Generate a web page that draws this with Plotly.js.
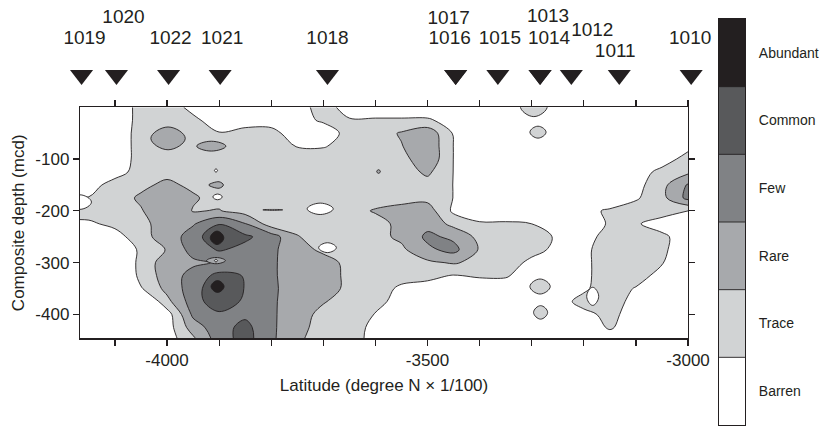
<!DOCTYPE html>
<html>
<head>
<meta charset="utf-8">
<script src="https://cdn.plot.ly/plotly-3.0.1.min.js"></script>
<style>
  html, body { margin: 0; padding: 0; background: #ffffff; }
  #chart { width: 821px; height: 427px; }
</style>
</head>
<body>
<div id="chart"></div>
<script>
// ------------------------------------------------------------------
// DATA
// ------------------------------------------------------------------
// Grid of the abundance field: latitude (degree N x 1/100) and composite depth (mcd)
const latitude = [-4200, -4150, -4100, -4050, -4000, -3950, -3900, -3850, -3800, -3750,
                  -3700, -3650, -3600, -3550, -3500, -3450, -3400, -3350, -3300, -3250,
                  -3200, -3150, -3100, -3050, -3000];
const depth = [0, -25, -50, -75, -100, -125, -150, -175, -200, -225,
               -250, -275, -300, -325, -350, -375, -400, -425, -450];

// Abundance index (0 Barren, 1 Trace, 2 Rare, 3 Few, 4 Common, 5 Abundant), one row per depth
const abundance = [
  [0, 0, 0, 0.74, 1.0, 0.22, 0, 0, 0, 0, 1.0, 0, 0, 0, 0, 0, 0, 0, 0, 0, 0, 0, 0, 0, 0],
  [0, 0, 0, 0.74, 1.0, 0.72, 0, 0.1, 0.1, 0, 0.7, 0.6, 0.6, 0.6, 0.6, 0.2, 0, 0, 0, 0, 0, 0, 0, 0, 0],
  [0, 0, 0, 0.8, 1.2, 1.0, 0.55, 0.8, 0.8, 0, -0.3, 1.0, 1.0, 1.6, 2.2, 0.4, 0, 0, 0, 0, 0, 0, 0, 0, 0],
  [0, 0, 0, 0.8, 1.2, 1.1, 1.1, 1.0, 1.0, 0.45, 0.4, 1.0, 1.0, 1.45, 2.3, 0.48, 0, 0, 0, 0, 0, 0, 0, 0, 0.2],
  [0, 0, 0, 0.8, 1.2, 1.1, 1.1, 1.0, 1.0, 1.0, 1.2, 1.0, 1.0, 1.1, 2.3, 0.48, 0, 0, 0, 0, 0, 0, 0, 0, 0.9],
  [0, 0, 0, 1.0, 1.3, 1.2, 1.2, 1.0, 1.0, 1.0, 1.0, 1.0, 1.0, 1.0, 1.7, 0.48, 0, 0, 0, 0, 0, 0, 0, 0.8, 1.3],
  [0, 0, 1.0, 1.35, 1.65, 1.35, 1.6, 1.0, 1.0, 1.0, 1.0, 1.0, 1.0, 1.0, 1.1, 0.48, 0, 0, 0, 0, 0, 0, 0.14, 1.2, 2.6],
  [0.55, 0.55, 1.2, 1.6, 2.0, 1.6, 1.2, 1.0, 1.0, 1.0, 1.0, 1.0, 1.0, 1.2, 1.2, 0.48, 0, 0, 0, 0, 0, 0, 0.37, 1.2, 2.8],
  [1.0, 1.0, 1.2, 1.45, 2.0, 1.45, 1.55, 1.1, 1.0, 1.0, 1.0, 1.1, 1.6, 1.8, 2.0, 0.3, 0, 0, 0, 0, 0.3, 0.6, 1.0, 0.9, 0.5],
  [0.3, 0.3, 0.8, 1.2, 2.0, 2.4, 3.45, 2.55, 1.0, 1.2, 1.0, 1.0, 1.1, 1.8, 2.2, 1.2, 0.6, 0.6, 0.5, 0, 0, 0.6, 0.6, 0.1, 0],
  [0, 0, 0, 1.2, 1.9, 3.0, 4.4, 3.7, 3.0, 1.55, 1.1, 1.0, 1.2, 1.7, 2.7, 2.3, 1.2, 1.1, 1.1, 0.33, 0, 1.0, 1.2, 0.7, 0],
  [-1.5, -1.5, -1.5, 0.9, 1.55, 2.9, 3.6, 3.2, 2.75, 1.8, 1.35, 1.15, 1.1, 1.3, 2.3, 2.8, 1.4, 1.1, 0.9, 0.2, 0.2, 1.2, 1.3, 0.8, -0.5],
  [-1.5, -1.5, -1.5, 1.0, 1.9, 2.3, 2.6, 3.2, 2.7, 1.85, 1.8, 1.3, 1.0, 1.1, 1.3, 1.6, 1.2, 1.1, 0.2, 0, 0.2, 1.2, 1.3, 0.55, 0],
  [-1.5, -1.5, -1.5, 0.9, 1.9, 2.9, 3.8, 3.45, 2.7, 1.85, 1.8, 1.35, 1.0, 0.9, 0.7, 0.45, 0.6, 0.6, 0, 0, 0.2, 1.2, 1.1, 0, 0],
  [-1.5, -1.5, -1.5, 0.4, 1.8, 3.0, 4.4, 3.45, 2.75, 1.85, 1.75, 1.37, 1.0, 0.3, 0.2, 0, 0, 0, 0, 0, 0.3, 1.2, 0.4, 0, 0],
  [-1.5, -1.5, -1.5, -1.0, 1.2, 3.0, 4.2, 3.3, 2.7, 1.85, 1.55, 1.2, 0.9, 0, 0, 0, 0, 0, 0, 0, 0.9, 1.2, 0, 0, 0],
  [-1.5, -1.5, -1.5, -1.5, 0, 2.7, 3.3, 3.3, 2.7, 1.8, 1.3, 1.0, 0.45, 0, 0, 0, 0, 0, 0, 0, 0.2, 0.8, 0, 0, 0],
  [-1.5, -1.5, -1.5, -1.5, 0, 2.0, 3.1, 3.8, 2.7, 1.75, 1.2, 1.0, 0.2, 0, 0, 0, 0, 0, 0, 0, 0, 0.6, 0, 0, 0],
  [-1.5, -1.5, -1.5, -1.5, 0, 1.2, 3.0, 3.9, 2.7, 1.6, 1.2, 1.0, 0.1, 0, 0, 0, 0, 0, 0, 0, 0, 0, 0, 0, 0]
];

// Small closed patches of the field (centre latitude, centre depth, half-extents) per class
const rarePatchLat   = [-3998, -3915, -3594, -3906];
const rarePatchDepth = [-60, -75, -124, -296];
const rarePatchHalfLat   = [33, 28, 3.5, 18];
const rarePatchHalfDepth = [22, 9.5, 3.5, 6];

const tracePatchLat   = [-3296, -3288, -3284, -3283, -3906];
const tracePatchDepth = [2, -48, -346, -396, -296];
const tracePatchHalfLat   = [26, 15.5, 19.5, 13.5, 3];
const tracePatchHalfDepth = [20, 11.5, 14.5, 13, 2.5];

const barrenPatchLat   = [-4167, -3906, -3903, -3797, -3706, -3692, -3183];
const barrenPatchDepth = [-183, -122, -173, -198, -196, -271, -365];
const barrenPatchHalfLat   = [22, 3, 9, 19, 25, 17, 11.5];
const barrenPatchHalfDepth = [14, 3, 5.5, 1, 11, 9.5, 17.5];

const abundantPatchLat   = [-3904, -3903];
const abundantPatchDepth = [-252, -346];
const abundantPatchHalfLat   = [13, 12.5];
const abundantPatchHalfDepth = [13, 11.5];

// Abundance classes (colour bar)
const abundanceLevels = ['Barren', 'Trace', 'Rare', 'Few', 'Common', 'Abundant'];
const levelIndex = [0, 1, 2, 3, 4, 5];

// Axis tick values
const latitudeTicks = [-4000, -3500, -3000];
const depthTicks = [-100, -200, -300, -400];

// ODP sites along the transect
const siteNames    = ['1019', '1020', '1022', '1021', '1018', '1017', '1016', '1015', '1014', '1013', '1012', '1011', '1010'];
const siteLatitude = [-4164, -4097, -3997, -3898, -3692, -3446, -3446, -3365, -3284, -3284, -3224, -3132, -2994];

// ------------------------------------------------------------------
// LAYOUT / STYLE (not data)
// ------------------------------------------------------------------
const W = 821, H = 427;
const topEdge = 5;
const plotLeft = 79.5, plotRight = 688, plotTop = 107.3, plotBottom = 338.3;
const cbLeft = 719, cbRight = 745, cbTop = 19, cbBottom = 425;
const siteAxisRight = 732;
const xRange = [-4167, -3000];
const yRange = [-446, 0];
const ink = '#231f20';
const levelColors = ['#ffffff', '#d1d3d4', '#a7a9ac', '#808285', '#58595b', '#231f20'];
const fontFamily = '"Liberation Sans", Arial, Helvetica, sans-serif';

// label placement (pixel rows of the picture, used on a hidden pixel-row axis)
const triangleRowPx = 75;
const labelCenterPx = [39, 18, 39, 39, 39, 19, 39, 39, 39, 17, 31, 52, 39];
const labelNudgePx  = [3, 7, 2, 2, 0, -7, -6, 2, 9, 8, 21, -4, -1];

const paperW = cbRight - plotLeft;
const paperH = cbBottom - topEdge;
const latPerPx = (xRange[1] - xRange[0]) / (plotRight - plotLeft);

const colorscale = levelColors.map((c, i) => [i / (levelColors.length - 1), c]);

const traces = [];

// main abundance field
traces.push({
  type: 'contour',
  x: latitude,
  y: depth.slice().reverse(),
  z: abundance.slice().reverse(),
  autocontour: false,
  contours: { start: 0.5, end: 4.5, size: 1, coloring: 'fill', showlines: true },
  colorscale: colorscale,
  showscale: false,
  line: { color: ink, width: 0.9, smoothing: 1 },
  hoverinfo: 'skip'
});

// small closed patches
function addPatches(lats, deps, hl, hd, color) {
  for (let i = 0; i < lats.length; i++) {
    traces.push({
      type: 'contour',
      x: [lats[i] - 2 * hl[i], lats[i], lats[i] + 2 * hl[i]],
      y: [deps[i] - 2 * hd[i], deps[i], deps[i] + 2 * hd[i]],
      z: [[0, 0, 0], [0, 1, 0], [0, 0, 0]],
      autocontour: false,
      contours: { start: 0.5, end: 0.5, size: 1, coloring: 'fill', showlines: true },
      colorscale: [[0, 'rgba(255,255,255,0)'], [1, color]],
      showscale: false,
      line: { color: ink, width: 0.9, smoothing: 1.3 },
      hoverinfo: 'skip'
    });
  }
}
addPatches(rarePatchLat, rarePatchDepth, rarePatchHalfLat, rarePatchHalfDepth, levelColors[2]);
addPatches(tracePatchLat, tracePatchDepth, tracePatchHalfLat, tracePatchHalfDepth, levelColors[1]);
addPatches(barrenPatchLat, barrenPatchDepth, barrenPatchHalfLat, barrenPatchHalfDepth, levelColors[0]);
addPatches(abundantPatchLat, abundantPatchDepth, abundantPatchHalfLat, abundantPatchHalfDepth, levelColors[5]);

// empty trace so the top tick axis gets its own subplot
traces.push({ type: 'scatter', mode: 'markers', x: [], y: [], xaxis: 'x4', yaxis: 'y', hoverinfo: 'skip' });

// site triangles (hidden site axis: same latitude scale, pixel rows above the plot)
traces.push({
  type: 'scatter', mode: 'markers',
  xaxis: 'x3', yaxis: 'y3',
  x: siteLatitude,
  y: siteLatitude.map(() => triangleRowPx),
  marker: { symbol: 'triangle-down', size: 20, color: ink, line: { width: 0 } },
  cliponaxis: false, hoverinfo: 'skip'
});

// site labels
traces.push({
  type: 'scatter', mode: 'text',
  xaxis: 'x3', yaxis: 'y3',
  x: siteLatitude.map((v, i) => v + labelNudgePx[i] * latPerPx),
  y: labelCenterPx,
  text: siteNames,
  textposition: 'middle center',
  textfont: { family: fontFamily, size: 19, color: ink },
  cliponaxis: false, hoverinfo: 'skip'
});

// colour bar (class scale drawn as a contour of the class index)
const lo = levelIndex[0] - 0.5, hi = levelIndex[levelIndex.length - 1] + 0.5;
traces.push({
  type: 'contour',
  x: [0, 1],
  y: [lo, hi],
  z: [[lo, lo], [hi, hi]],
  xaxis: 'x2', yaxis: 'y2',
  autocontour: false,
  contours: { start: 0.5, end: 4.5, size: 1, coloring: 'fill', showlines: true },
  colorscale: colorscale,
  showscale: false,
  line: { color: ink, width: 0.9, smoothing: 0 },
  hoverinfo: 'skip'
});

const axisCommon = {
  showline: true, linecolor: ink, linewidth: 1.2,
  showgrid: false, zeroline: false,
  ticks: 'outside', ticklen: 6, tickwidth: 1.2, tickcolor: ink,
  tickfont: { family: fontFamily, size: 17, color: ink },
  mirror: 'ticks'
};

const layout = {
  width: W, height: H,
  margin: { l: plotLeft, r: W - cbRight, t: topEdge, b: H - cbBottom, pad: 0, autoexpand: false },
  paper_bgcolor: '#ffffff', plot_bgcolor: 'rgba(0,0,0,0)',
  showlegend: false,
  font: { family: fontFamily, size: 16, color: ink },
  xaxis: Object.assign({}, axisCommon, {
    domain: [0, (plotRight - plotLeft) / paperW],
    range: xRange, autorange: false,
    tickmode: 'array', tickvals: latitudeTicks, ticktext: latitudeTicks.map(String),
    minor: { tickmode: 'linear', tick0: -4000, dtick: 100, ticks: 'outside', ticklen: 6, tickwidth: 1.2, tickcolor: ink },
    title: { text: 'Latitude (degree N \u00d7 1/100)', font: { family: fontFamily, size: 17, color: ink }, standoff: 10 }
  }),
  xaxis4: {
    overlaying: 'x', side: 'top', anchor: 'y',
    range: xRange, autorange: false,
    tickmode: 'linear', tick0: -4000, dtick: 100,
    ticks: 'outside', ticklen: 6, tickwidth: 1.2, tickcolor: ink,
    showticklabels: false, showline: true, linecolor: ink, linewidth: 1.2,
    showgrid: false, zeroline: false
  },
  yaxis: Object.assign({}, axisCommon, {
    domain: [(cbBottom - plotBottom) / paperH, (cbBottom - plotTop) / paperH],
    range: yRange, autorange: false,
    tickmode: 'array', tickvals: depthTicks, ticktext: depthTicks.map(String),
    title: { text: 'Composite depth (mcd)', font: { family: fontFamily, size: 17, color: ink }, standoff: 6 }
  }),
  xaxis2: {
    domain: [(cbLeft - plotLeft) / paperW, 1], anchor: 'y2',
    range: [0, 1], autorange: false,
    showticklabels: false, ticks: '', showgrid: false, zeroline: false,
    showline: true, mirror: true, linecolor: ink, linewidth: 1
  },
  yaxis2: {
    domain: [0, (cbBottom - cbTop) / paperH], anchor: 'x2', side: 'right',
    range: [lo, hi], autorange: false,
    tickmode: 'array', tickvals: levelIndex, ticktext: abundanceLevels,
    ticks: '', ticklabelstandoff: 10,
    tickfont: { family: fontFamily, size: 14, color: ink },
    showgrid: false, zeroline: false,
    showline: true, mirror: true, linecolor: ink, linewidth: 1
  },
  xaxis3: {
    domain: [0, (siteAxisRight - plotLeft) / paperW], anchor: 'y3',
    range: [xRange[0], xRange[1] + (siteAxisRight - plotRight) * latPerPx], autorange: false,
    visible: false
  },
  yaxis3: {
    domain: [(cbBottom - plotTop) / paperH, 1], anchor: 'x3',
    range: [plotTop, topEdge], autorange: false,
    visible: false
  }
};

Plotly.newPlot('chart', traces, layout, { staticPlot: true, displayModeBar: false });
</script>
</body>
</html>
